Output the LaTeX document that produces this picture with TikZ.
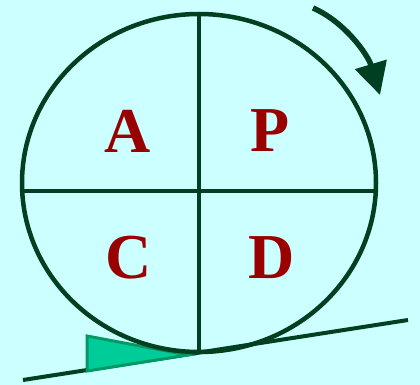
\documentclass[tikz,border=0pt]{standalone}
\usepackage{fontspec}
\setmainfont{Liberation Serif}
\usetikzlibrary{arrows.meta}

\definecolor{bgcolor}{HTML}{CCFFFF}
\definecolor{wheelcolor}{HTML}{003F1F}
\definecolor{lettercolor}{HTML}{990000}
\definecolor{wedgefill}{HTML}{00CC99}
\definecolor{wedgeedge}{HTML}{009966}

\begin{document}
\begin{tikzpicture}[
    x=1pt, y=-1pt,
    wheel/.style={wheelcolor, line width=4.5pt},
    letter/.style={font=\fontsize{64}{64}\selectfont\bfseries, text=lettercolor, inner sep=0pt},
]

% Background
\fill[bgcolor] (0, 0) rectangle (420, 385);
\useasboundingbox (0, 0) rectangle (420, 385);

% Slope
\draw[wheelcolor, line width=4pt] (23, 380) -- (408, 320);

% Wedge
\draw[wedgeedge, fill=wedgefill, line width=3pt, line join=miter]
    (87, 336) -- (87, 371) -- (188, 355) -- cycle;

% Wheel
\draw[wheel] (199, 183) ellipse (177 and 169);
\draw[wheel, line width=4pt] (199, 14) -- (199, 352);
\draw[wheel, line width=4pt] (23, 191) -- (375, 191);

% Letters
\node[letter] (plan)  at (270, 131) {P};
\node[letter] (do)    at (272, 258) {D};
\node[letter] (check) at (129, 258) {C};
\node[letter] (act)   at (128, 131) {A};

% Rotation
\draw[wheelcolor, line width=5.5pt, -{Triangle[length=32pt, width=32pt]}]
    (313, 8) .. controls (345, 22) and (368, 55) .. (380, 95);

\end{tikzpicture}
\end{document}
